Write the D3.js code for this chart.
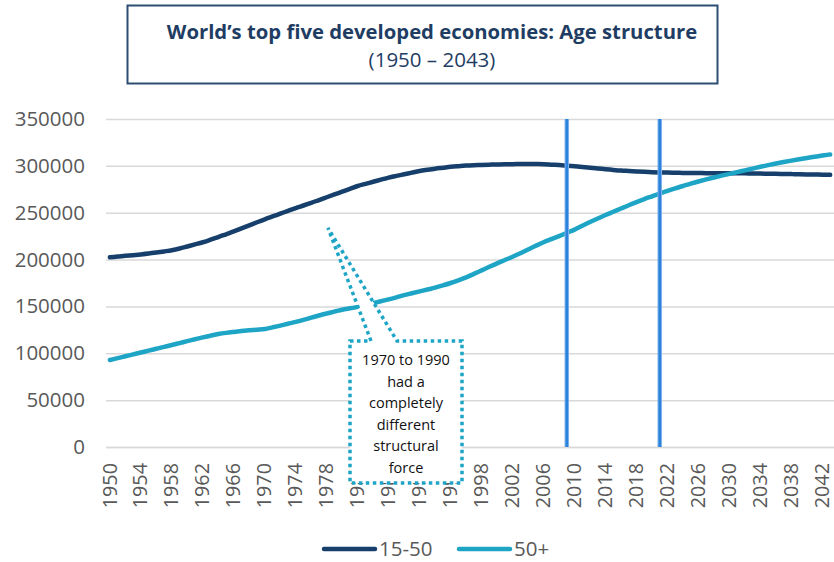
<!DOCTYPE html>
<html>
<head>
<meta charset="utf-8">
<script src="https://cdn.jsdelivr.net/npm/d3@7"></script>
<style>
  html, body { margin: 0; padding: 0; background: #fff; }
  svg { display: block; font-family: "Open Sans", "Noto Sans", sans-serif; }
</style>
</head>
<body>
<svg id="chart" width="834" height="562"></svg>
<script>
// Population by age group, top five developed economies (thousands)
const years = d3.range(1950, 2044);

const age15to50 = [
  202400, 203200, 204000, 204700, 205500, 206400, 207500, 208700, 210000, 211800,
  214000, 216200, 218500, 221200, 224000, 227000, 230000, 233300, 236500, 239800,
  243000, 246000, 249000, 252000, 255000, 257700, 260500, 263500, 266500, 269500,
  272500, 275500, 278500, 280800, 283000, 285300, 287500, 289300, 291000, 292800,
  294500, 295800, 297000, 298000, 299000, 299700, 300300, 300700, 301000, 301300,
  301500, 301700, 301800, 301900, 302000, 301900, 301800, 301300, 300800, 300200,
  299500, 298800, 298000, 297200, 296500, 295700, 295000, 294500, 294000, 293600,
  293300, 293000, 292800, 292600, 292500, 292400, 292300, 292200, 292200, 292200,
  292200, 292100, 292000, 291900, 291800, 291600, 291500, 291300, 291200, 291000,
  290900, 290700, 290600, 290400
];

const age50plus = [
  92800, 94800, 96800, 98800, 100800, 102800, 104800, 106800, 108800, 110900,
  113000, 115000, 117000, 118800, 120500, 121800, 122800, 123700, 124500, 125200,
  126000, 127700, 129500, 131500, 133500, 135700, 138000, 140300, 142500, 144500,
  146500, 148000, 149500, 151500, 153500, 155500, 157500, 159700, 162000, 164000,
  166000, 168000, 170000, 172400, 175000, 177900, 181000, 184700, 188500, 192300,
  196000, 199500, 203000, 206700, 210700, 214700, 218500, 221800, 225000, 228500,
  232000, 236000, 240000, 243800, 247500, 251000, 254500, 258000, 261300, 264500,
  267500, 270500, 273300, 276000, 278500, 281000, 283300, 285500, 287600, 289600,
  291500, 293300, 295200, 297100, 299000, 300800, 302500, 304100, 305600, 307000,
  308400, 309700, 311000, 312200
];

const yTicks = [0, 50000, 100000, 150000, 200000, 250000, 300000, 350000];
const xTickLabels = [
  "1950", "1954", "1958", "1962", "1966", "1970", "1974", "1978", "1982", "1986",
  "1990", "1994", "1998", "2002", "2006", "2010", "2014", "2018", "2022", "2026",
  "2030", "2034", "2038", "2042"
];
const markerYears = [2009, 2021];

const seriesNames = ["15-50", "50+"];
const seriesColors = ["#163f6c", "#1ea5c6"];

const titleLine = "World\u2019s top five developed economies: Age structure";
const subtitleLine = "(1950 \u2013 2043)";
const calloutLines = ["1970 to 1990", "had a", "completely", "different", "structural", "force"];

const svg = d3.select("#chart");

const plot = { left: 106, right: 834, top: 119, bottom: 447 };

const x = d3.scalePoint()
  .domain(years)
  .range([plot.left, plot.right])
  .padding(0.5);

const y = d3.scaleLinear()
  .domain([0, 350000])
  .range([plot.bottom, plot.top]);

// Title box
svg.append("rect")
  .attr("x", 127.5).attr("y", 5.5)
  .attr("width", 590).attr("height", 78)
  .attr("fill", "#fff")
  .attr("stroke", "#2d4e73")
  .attr("stroke-width", 2);

svg.append("text")
  .attr("x", 432).attr("y", 39)
  .attr("text-anchor", "middle")
  .attr("font-weight", 700)
  .attr("font-size", 20.3)
  .attr("fill", "#1f3d63")
  .text(titleLine);

svg.append("text")
  .attr("x", 432).attr("y", 67)
  .attr("text-anchor", "middle")
  .attr("font-size", 20.5)
  .attr("fill", "#1f3d63")
  .text(subtitleLine);

// Horizontal gridlines
const yAxis = d3.axisLeft(y)
  .tickValues(yTicks)
  .tickSize(-(plot.right - plot.left))
  .tickPadding(21)
  .tickFormat(d3.format("d"));

const gy = svg.append("g")
  .attr("transform", `translate(${plot.left},0)`)
  .call(yAxis);
gy.select(".domain").remove();
gy.selectAll(".tick line").attr("stroke", "#d9d9d9").attr("stroke-width", 1.5);
gy.selectAll(".tick text")
  .attr("font-size", 20.5)
  .attr("fill", "#595959")
  .attr("font-family", "'Open Sans', sans-serif");

// Category axis
const xAxis = d3.axisBottom(x)
  .tickValues(years.filter(yr => xTickLabels.includes(String(yr))))
  .tickSize(0)
  .tickFormat(d => String(d));

const gx = svg.append("g")
  .attr("transform", `translate(0,${plot.bottom})`)
  .call(xAxis);
gx.select(".domain").attr("stroke", "#d9d9d9").attr("stroke-width", 1.5);
gx.selectAll(".tick text")
  .attr("font-size", 19.8)
  .attr("fill", "#595959")
  .attr("font-family", "'Open Sans', sans-serif")
  .attr("text-anchor", "end")
  .attr("dy", "0.31em")
  .attr("y", 0)
  .attr("transform", "translate(0,16) rotate(-90)");

// Series lines
const line = d3.line()
  .x((d, i) => x(years[i]))
  .y(d => y(d))
  .curve(d3.curveMonotoneX);

[age15to50, age50plus].forEach((values, k) => {
  svg.append("path")
    .datum(values)
    .attr("fill", "none")
    .attr("stroke", seriesColors[k])
    .attr("stroke-width", 4.5)
    .attr("stroke-linejoin", "round")
    .attr("stroke-linecap", "round")
    .attr("d", line);
});

// Vertical marker lines
markerYears.forEach(yr => {
  svg.append("line")
    .attr("x1", x(yr)).attr("x2", x(yr))
    .attr("y1", plot.top).attr("y2", plot.bottom)
    .attr("stroke", "#7fb2ea")
    .attr("stroke-width", 4.5);
  svg.append("line")
    .attr("x1", x(yr)).attr("x2", x(yr))
    .attr("y1", plot.top).attr("y2", plot.bottom)
    .attr("stroke", "#2a82dc")
    .attr("stroke-width", 2.5);
});

// Callout with pointer
const box = { x0: 350, x1: 462, y0: 341, y1: 483 };
const tip = [328, 228];
const calloutPath = d3.path();
calloutPath.moveTo(box.x0, box.y0);
calloutPath.lineTo(371, box.y0);
calloutPath.lineTo(tip[0], tip[1]);
calloutPath.lineTo(397, box.y0);
calloutPath.lineTo(box.x1, box.y0);
calloutPath.lineTo(box.x1, box.y1);
calloutPath.lineTo(box.x0, box.y1);
calloutPath.closePath();

svg.append("path")
  .attr("d", calloutPath.toString())
  .attr("fill", "#fff")
  .attr("stroke", "#1ea5c6")
  .attr("stroke-width", 3.5)
  .attr("stroke-dasharray", "3.5,3.5");

const calloutText = svg.append("text")
  .attr("text-anchor", "middle")
  .attr("font-size", 14.5)
  .attr("fill", "#111")
  .attr("font-family", "'Open Sans', sans-serif");
calloutLines.forEach((t, i) => {
  calloutText.append("tspan")
    .attr("x", (box.x0 + box.x1) / 2)
    .attr("y", 365 + i * 21.5)
    .text(t);
});

// Legend
const legendItems = [
  { x: 322, name: seriesNames[0], color: seriesColors[0] },
  { x: 457, name: seriesNames[1], color: seriesColors[1] }
];
const legend = svg.append("g");
legendItems.forEach(item => {
  legend.append("line")
    .attr("x1", item.x + 2).attr("x2", item.x + 53)
    .attr("y1", 549).attr("y2", 549)
    .attr("stroke", item.color)
    .attr("stroke-width", 4.5)
    .attr("stroke-linecap", "round");
  legend.append("text")
    .attr("x", item.x + 57)
    .attr("y", 549)
    .attr("dy", "0.35em")
    .attr("font-size", 20.5)
    .attr("fill", "#595959")
    .text(item.name);
});
</script>
</body>
</html>
